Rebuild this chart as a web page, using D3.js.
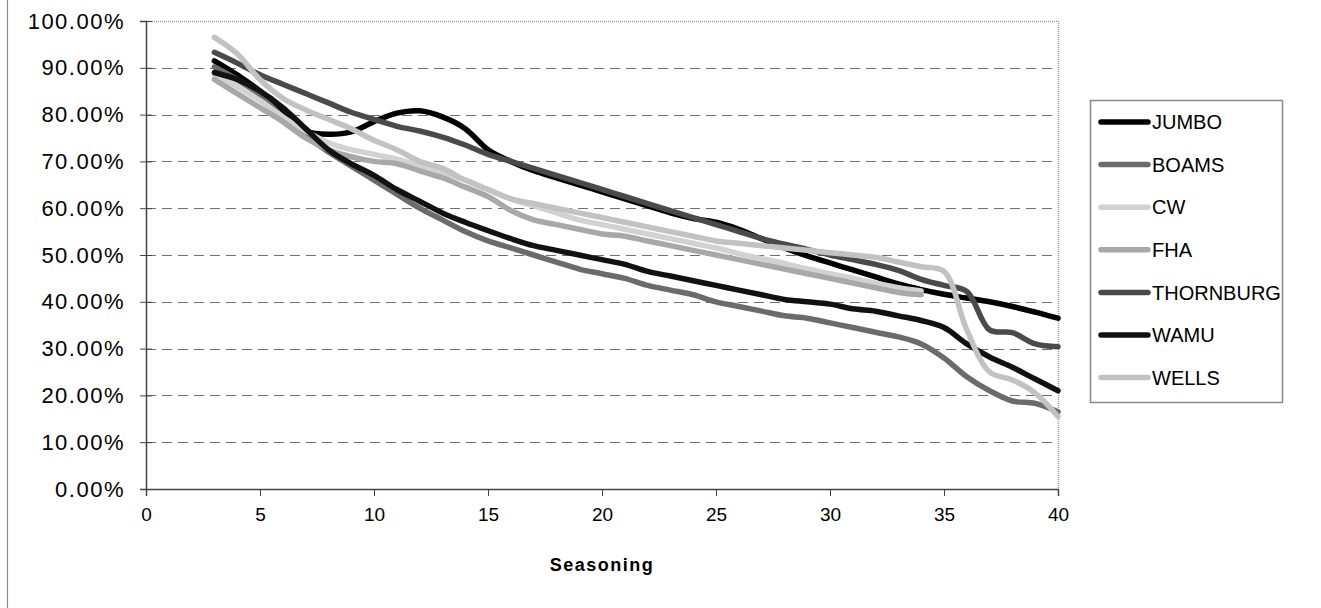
<!DOCTYPE html>
<html><head><meta charset="utf-8">
<script src="https://cdn.jsdelivr.net/npm/d3@7"></script>
<style>
body{margin:0;background:#fff;}
svg{display:block;}
text{font-family:"Liberation Sans",Arial,sans-serif;fill:#000;}
</style>
</head><body>
<svg id="chart" width="1321" height="608"></svg>
<script>
// ---- data ----
const seasoning = [3,4,5,6,7,8,9,10,11,12,13,14,15,16,17,18,19,20,21,22,23,24,25,26,27,28,29,30,31,32,33,34,35,36,37,38,39,40];
const seasoningShort = [3,4,5,6,7,8,9,10,11,12,13,14,15,16,17,18,19,20,21,22,23,24,25,26,27,28,29,30,31,32,33,34];
const seriesNames = ["JUMBO","BOAMS","CW","FHA","THORNBURG","WAMU","WELLS"];
const jumbo = [91.5,88.5,85,80,76.5,75.8,76.3,78.5,80.3,80.8,79.5,77,72.5,70,68,66.5,65,63.5,62,60.5,59,57.8,57,55.5,53.5,51.5,49.8,48.3,46.8,45.3,43.8,42.6,41.6,40.8,40,39,37.8,36.5];
const boams = [90.2,87.5,84,79.5,75.5,72,69,66,63,60,57.5,55,53,51.5,50,48.5,47,46,45,43.5,42.5,41.5,40,39,38,37,36.5,35.5,34.5,33.5,32.5,31,28,24,21,18.8,18.3,16.5];
const cw = [88.5,86,83,79.5,76.5,74,72.5,71.5,70.5,69,67.5,66,64,62,60.5,59,57.5,56.5,55.5,54.5,53.5,52.5,51.5,50.3,49.2,48.2,47,46,45,44,43,42.3];
const fha = [87.5,84.5,81.5,78.5,75,72.5,71,70,69.5,68,66.5,64.5,62.5,59.5,57.5,56.5,55.5,54.5,54,53,52,51,50,49,48,47,46,45,44,43,42,41.5];
const thornburg = [93.3,91,88.5,86.5,84.5,82.5,80.5,79,77.5,76.5,75.2,73.5,71.5,70,68.5,67,65.5,64,62.5,61,59.5,58,56.5,55,53.5,52.3,51.2,50,49,48,46.7,44.8,43.5,42.2,34,33.4,31,30.4];
const wamu = [89,87.5,85,81.5,77,72.5,69.5,67,64,61.5,59,57,55.2,53.5,52,51,50,49,48,46.5,45.5,44.5,43.5,42.5,41.5,40.5,40,39.5,38.5,38,37,36,34.5,31,28.2,26,23.5,21];
const wells = [96.5,93,87.5,83.5,81,79,77,74.5,72.5,70,68.5,66,64,62,61,60,59,58,57,56,55,54,53,52.5,52,51.5,51,50.5,50,49.5,48.5,47.5,46.5,34,25,23.3,20.5,15.5];
const yTicks = [0,10,20,30,40,50,60,70,80,90,100];
const xTicks = [0,5,10,15,20,25,30,35,40];
const xTitle = "Seasoning";

// ---- styles ----
const colors = {JUMBO:"#000000",BOAMS:"#6b6b6b",CW:"#d2d2d2",FHA:"#a8a8a8",THORNBURG:"#4a4a4a",WAMU:"#111111",WELLS:"#c2c2c2"};
const seriesData = [
  {name:"JUMBO", x:seasoning, v:jumbo},
  {name:"BOAMS", x:seasoning, v:boams},
  {name:"CW", x:seasoningShort, v:cw},
  {name:"FHA", x:seasoningShort, v:fha},
  {name:"THORNBURG", x:seasoning, v:thornburg},
  {name:"WAMU", x:seasoning, v:wamu},
  {name:"WELLS", x:seasoning, v:wells}
];

const svg = d3.select("#chart");
const L=146, R=1058, T=21, B=489;
const x = d3.scaleLinear().domain([0,40]).range([L,R]);
const y = d3.scaleLinear().domain([0,100]).range([B,T]);

// outer chart border (left edge visible)
svg.append("rect").attr("x",7.5).attr("y",-2).attr("width",1400).attr("height",620)
  .attr("fill","none").attr("stroke","#8a8a8a").attr("stroke-width",1.2);

// gridlines
svg.append("g").selectAll("line").data(yTicks.filter(d=>d>0&&d<100)).join("line")
  .attr("x1",L).attr("x2",R).attr("y1",d=>Math.round(y(d))+0.5).attr("y2",d=>Math.round(y(d))+0.5)
  .attr("stroke","#6f6f6f").attr("stroke-width",1.2).attr("stroke-dasharray","10,6");

// plot border top/right (dotted)
svg.append("line").attr("x1",L).attr("x2",R).attr("y1",T+0.5).attr("y2",T+0.5)
  .attr("stroke","#9a9a9a").attr("stroke-width",1.5).attr("stroke-dasharray","1,1");
svg.append("line").attr("x1",R+0.5).attr("x2",R+0.5).attr("y1",T).attr("y2",B)
  .attr("stroke","#9a9a9a").attr("stroke-width",1.5).attr("stroke-dasharray","1,1");

// axes
const yAxis = d3.axisLeft(y).tickValues(yTicks).tickFormat(d=>d3.format(".2f")(d)+"%").tickSize(6).tickPadding(15);
const gy = svg.append("g").attr("transform",`translate(${L},0)`).call(yAxis);
gy.select(".domain").attr("stroke","#444").attr("stroke-width",1.5);
gy.selectAll(".tick line").attr("stroke","#444").attr("x2",-6).attr("x1",6);
gy.selectAll(".tick text").attr("font-size",22).attr("letter-spacing","1.5px")
  .attr("font-family","Liberation Sans, Arial, sans-serif").attr("fill","#000");

const xAxis = d3.axisBottom(x).tickValues(xTicks).tickSize(7).tickPadding(12);
const gx = svg.append("g").attr("transform",`translate(0,${B})`).call(xAxis);
gx.select(".domain").attr("stroke","#444").attr("stroke-width",1.5);
gx.selectAll(".tick line").attr("stroke","#444");
gx.selectAll(".tick text").attr("font-size",19).attr("font-family","Liberation Sans, Arial, sans-serif").attr("fill","#000");

// x title
svg.append("text").attr("x",(L+R)/2).attr("y",571).attr("text-anchor","middle")
  .attr("font-size",18).attr("font-weight","bold").attr("letter-spacing","1.5px").text(xTitle);

// lines
const line = d3.line().curve(d3.curveCatmullRom.alpha(0.5));
const gl = svg.append("g");
seriesData.forEach(s=>{
  const pts = s.x.map((xx,i)=>[x(xx), y(s.v[i])]);
  gl.append("path").attr("d",line(pts)).attr("fill","none")
    .attr("stroke",colors[s.name]).attr("stroke-width",5.5)
    .attr("stroke-linejoin","round").attr("stroke-linecap","round");
});

// legend
const lg = svg.append("g");
lg.append("rect").attr("x",1090.5).attr("y",100.5).attr("width",192).attr("height",302)
  .attr("fill","#fff").attr("stroke","#8a8a8a").attr("stroke-width",1.5);
seriesNames.forEach((n,i)=>{
  const yy = 122 + i*42.6;
  lg.append("line").attr("x1",1101).attr("x2",1148).attr("y1",yy).attr("y2",yy)
    .attr("stroke",colors[n]).attr("stroke-width",5.5).attr("stroke-linecap","round");
  lg.append("text").attr("x",1152).attr("y",yy).attr("dy","0.36em").attr("font-size",20).text(n);
});
</script>
</body></html>
